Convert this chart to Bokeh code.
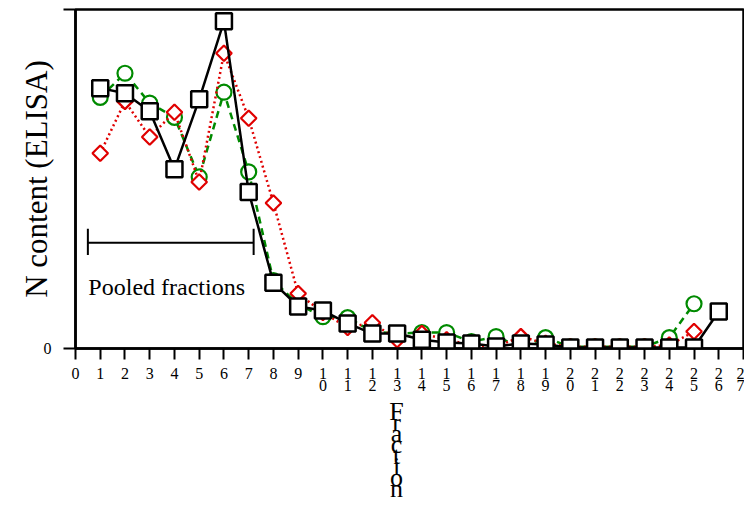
import math
from bokeh.plotting import figure
from bokeh.models import Range1d, FixedTicker, Label
from bokeh.embed import file_html
from bokeh.resources import INLINE

# ---- data (y in % of full scale) ----
fractions_sq = list(range(1, 27))
black_sq = [76.8, 75.3, 70.0, 52.9, 73.5, 96.5, 46.2, 19.4, 12.4, 11.2,
            7.4, 4.4, 4.4, 2.6, 1.8, 1.5, 0.6, 1.5, 1.2, 0.3,
            0.3, 0.3, 0.3, 0.3, 0.3, 10.9]
fractions_25 = list(range(1, 26))
green_circ = [74.1, 81.2, 72.4, 68.2, 50.6, 75.6, 52.1, 20.0, 13.0, 9.4,
              9.1, 5.0, 4.4, 4.7, 4.7, 2.0, 3.5, 0.5, 3.2, 0.5,
              0.5, 0.5, 0.5, 3.2, 13.2]
red_diam = [57.6, 72.9, 62.4, 69.7, 49.1, 87.1, 67.9, 42.9, 16.2, 10.6,
            6.2, 7.6, 2.6, 4.4, 2.6, 1.0, 0.5, 3.5, 1.5, 0.5,
            0.5, 0.5, 0.5, 1.0, 5.0]
x_ticks = list(range(0, 28))
x_tick_labels = {t: "\n".join(str(t)) for t in x_ticks}
pooled_from, pooled_to = 0.5, 7.2
pooled_text = "Pooled fractions"
y_label_text = "N content (ELISA)"
x_label_text = "Fraction"

SERIF = "Liberation Serif"
PAD = "\u00a0" * 4  # shifts the stacked x title slightly left

p = figure(width=744, height=506, output_backend="svg", toolbar_location=None,
           x_range=Range1d(0, 27), y_range=Range1d(0, 100),
           min_border_left=75, min_border_right=1, min_border_top=9,
           min_border_bottom=157)
p.grid.visible = False
p.background_fill_color = "white"
p.border_fill_color = "white"
p.outline_line_color = "black"
p.outline_line_width = 2.5

# x axis
xa = p.xaxis[0]
xa.ticker = FixedTicker(ticks=x_ticks)
xa.major_label_overrides = x_tick_labels
xa.major_label_text_font = SERIF
xa.major_label_text_font_size = "16px"
xa.major_label_text_color = "black"
xa.major_label_text_line_height = 0.75
xa.major_label_standoff = 5
xa.major_tick_out = 11
xa.major_tick_in = 0
xa.major_tick_line_width = 2
xa.axis_line_width = 2.5
xa.minor_tick_line_color = None
xa.axis_label = "\n".join(ch + PAD for ch in x_label_text)
xa.axis_label_text_font = SERIF
xa.axis_label_text_font_style = "normal"
xa.axis_label_text_font_size = "26px"
xa.axis_label_text_color = "black"
xa.axis_label_text_line_height = 0.38
xa.axis_label_standoff = 0

# y axis
ya = p.yaxis[0]
ya.ticker = FixedTicker(ticks=[0, 100])
ya.major_label_overrides = {0: "0", 100: ""}
ya.major_label_text_font = SERIF
ya.major_label_text_font_size = "16px"
ya.major_label_text_color = "black"
ya.major_label_standoff = 12
ya.major_tick_out = 12
ya.major_tick_in = 0
ya.major_tick_line_width = 2
ya.axis_line_width = 2.5
ya.minor_tick_line_color = None
ya.axis_label = y_label_text
ya.axis_label_text_font = SERIF
ya.axis_label_text_font_style = "normal"
ya.axis_label_text_font_size = "31px"
ya.axis_label_text_color = "black"
ya.axis_label_standoff = -13

# series
GREEN = "#008a00"
RED = "#e00000"
p.line(fractions_25, green_circ, line_color=GREEN, line_width=2.5, line_dash="7 5")
p.scatter(fractions_25, green_circ, marker="circle", size=15, fill_color="white",
          line_color=GREEN, line_width=2.2)
p.line(fractions_25, red_diam, line_color=RED, line_width=2.5, line_dash="2 3")
p.scatter(fractions_25, red_diam, marker="square", angle=math.pi / 4, size=11,
          fill_color="white", line_color=RED, line_width=2.2)
p.line(fractions_sq, black_sq, line_color="black", line_width=2.5)
p.scatter(fractions_sq, black_sq, marker="square", size=16, fill_color="white",
          line_color="black", line_width=2.5)

# pooled fractions bracket
bar_y = 31.2
cap_lo, cap_hi = 27.6, 35.3
p.segment(x0=[pooled_from, pooled_from, pooled_to], y0=[bar_y, cap_lo, cap_lo],
          x1=[pooled_to, pooled_from, pooled_to], y1=[bar_y, cap_hi, cap_hi],
          line_color="black", line_width=2)
p.add_layout(Label(x=0.52, y=18.2, text=pooled_text, text_font=SERIF,
                   text_font_size="24px", text_baseline="alphabetic",
                   text_align="left", text_color="black"))

open("out.html", "w").write(file_html(p, INLINE))
